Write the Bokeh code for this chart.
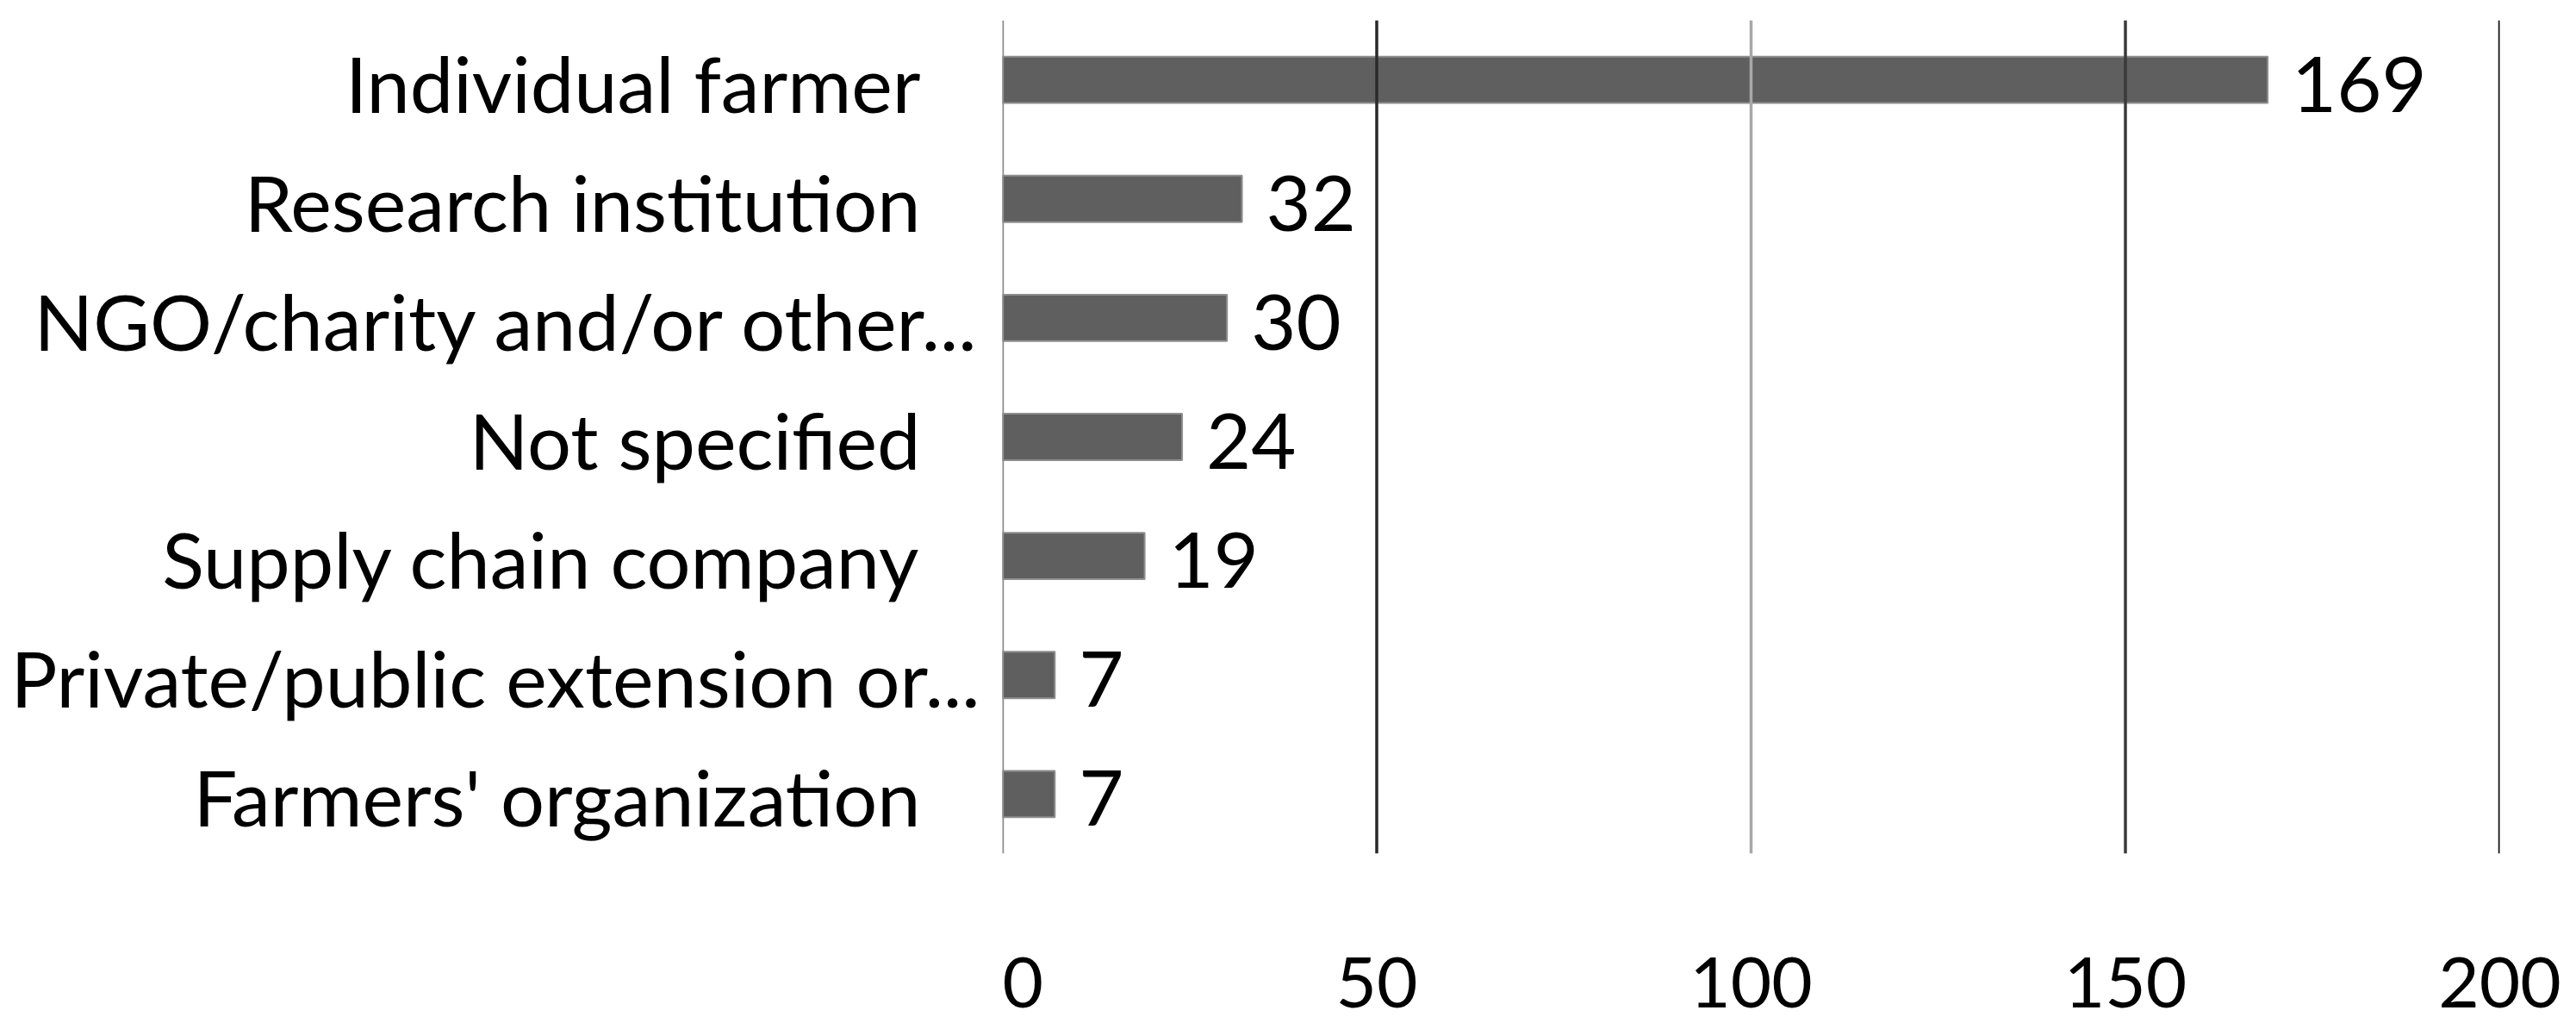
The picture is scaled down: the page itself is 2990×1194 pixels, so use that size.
from bokeh.plotting import figure
from bokeh.layouts import row
from bokeh.models import FactorRange, Span, ColumnDataSource, FixedTicker, Range1d
from bokeh.core.properties import value
from bokeh.embed import file_html
from bokeh.resources import INLINE

categories = ["Individual farmer", "Research institution", "NGO/charity and/or other...",
              "Not specified", "Supply chain company", "Private/public extension or...",
              "Farmers' organization"]
counts = [169, 32, 30, 24, 19, 7, 7]
x_ticks = [0, 50, 100, 150, 200]
grid_colors = ["#8c8c8c", "#2a2a2a", "#a8a8a8", "#3a3a3a", "#111111"]

FONT = "Lato"
TOP, BOTTOM = 23, 204
TICK_FS, TICK_STANDOFF = "82px", 114

y_range = FactorRange(factors=list(reversed(categories)), range_padding=0)


def style_xaxis(fig, label_color):
    fig.xaxis.ticker = FixedTicker(ticks=x_ticks)
    fig.xaxis.axis_line_color = None
    fig.xaxis.major_tick_line_color = None
    fig.xaxis.minor_tick_line_color = None
    fig.xaxis.major_label_standoff = TICK_STANDOFF
    fig.xaxis.major_label_text_font = FONT
    fig.xaxis.major_label_text_font_size = TICK_FS
    fig.xaxis.major_label_text_color = label_color


# ---- main chart ----
src = ColumnDataSource(dict(cat=categories, n=counts, lab=[str(v) for v in counts]))

p = figure(width=2990 - 1163, height=1194, output_backend="svg", toolbar_location=None,
           y_range=y_range, x_range=(0, 200), y_axis_location=None,
           min_border_left=0, min_border_right=89, min_border_top=TOP, min_border_bottom=BOTTOM)
p.outline_line_color = None
p.background_fill_color = "white"
p.border_fill_color = "white"
p.ygrid.grid_line_color = None
p.xgrid.grid_line_color = None

for t, c in zip(x_ticks, grid_colors):
    p.add_layout(Span(location=t, dimension="height", line_color=c, line_width=3.5))

p.hbar(y="cat", right="n", left=0, height=0.39, source=src,
       fill_color="#5f5f5f", line_color="#8f8f8f", line_width=2)

p.text(x="n", y="cat", text="lab", source=src, x_offset=28, y_offset=5,
       text_align="left", text_baseline="middle", text_font=value(FONT),
       text_font_size="90px", text_color="black")
style_xaxis(p, "black")

# ---- category labels panel (left) ----
trunc = [c for c in categories if c.endswith("...")]
full = [c for c in categories if not c.endswith("...")]
src_trunc = ColumnDataSource(dict(cat=trunc, x=[1] * len(trunc)))
src_full = ColumnDataSource(dict(cat=full, x=[1] * len(full)))

lp = figure(width=1163, height=1194, output_backend="svg", toolbar_location=None,
            y_range=y_range, x_range=Range1d(0, 1), y_axis_location=None,
            min_border_left=0, min_border_right=0, min_border_top=TOP, min_border_bottom=BOTTOM)
lp.outline_line_color = None
lp.border_fill_color = "white"
lp.background_fill_color = "white"
lp.xgrid.grid_line_color = None
lp.ygrid.grid_line_color = None
style_xaxis(lp, None)

for s, off in ((src_trunc, -26), (src_full, -95)):
    lp.text(x="x", y="cat", text="cat", source=s, x_offset=off, y_offset=3,
            text_align="right", text_baseline="middle", text_font=value(FONT),
            text_font_size="90px", text_color="black")

layout = row(lp, p, spacing=0)
open("out.html", "w").write(file_html(layout, INLINE))
